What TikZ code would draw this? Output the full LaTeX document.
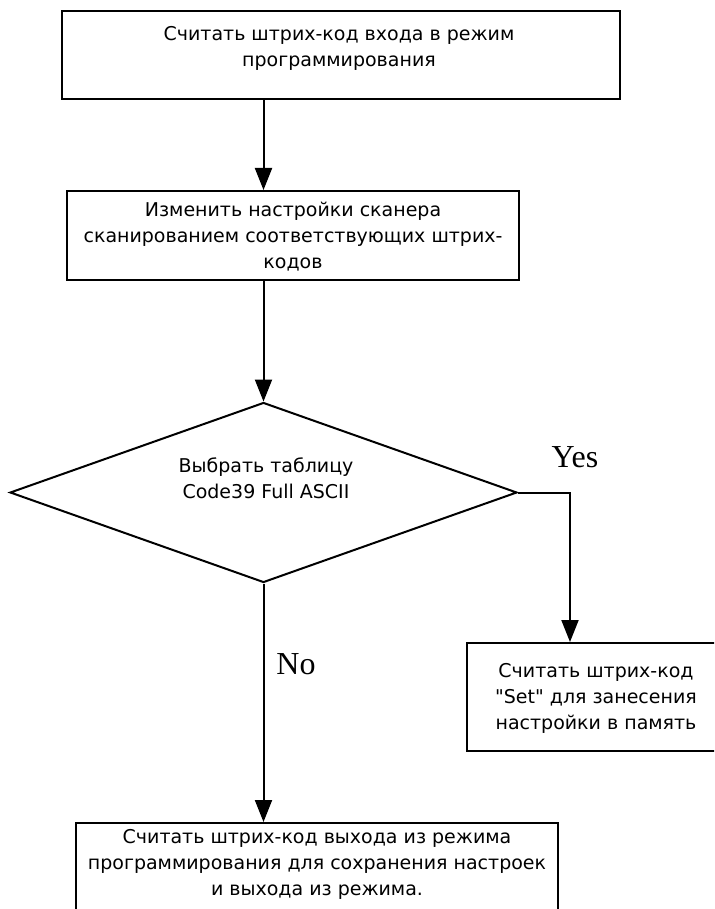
\documentclass[tikz,border=0pt]{standalone}
\usepackage{fontspec}
\setmainfont{DejaVu Sans}[Ligatures=TeXOff]
\newfontfamily\yesnofont{Liberation Serif}
\usetikzlibrary{arrows.meta,shapes.geometric}
\begin{document}
\begin{tikzpicture}[x=1pt,y=-1pt,
  box/.style={draw, line width=2pt, rectangle, inner sep=0pt},
  txt/.style={align=center, inner sep=0pt, font=\fontsize{19}{26}\selectfont},
  arr/.style={line width=2pt, -{Triangle[length=22pt,width=17pt]}},
  lbl/.style={inner sep=0pt, font=\yesnofont\fontsize{32}{32}\selectfont}]
\useasboundingbox (0,0) rectangle (714,909);
\begin{scope}
\clip (0,0) rectangle (714,909);
% boxes
\node[box, minimum width=558pt, minimum height=88pt] (b1) at (341,55) {};
\node[txt] (t1) at (339,48) {Считать штрих-код входа в режим\\программирования};
\node[box, minimum width=452pt, minimum height=89pt] (b2) at (293,235.5) {};
\node[txt] (t2) at (293,237) {Изменить настройки сканера\\сканированием соответствующих штрих-\\кодов};
\node[draw, diamond, line width=2pt, inner sep=0pt, minimum width=507pt, minimum height=180pt] (d) at (263.5,492.5) {};
\node[txt] (t3) at (266,478) {Выбрать таблицу\\Code39 Full ASCII};
\node[box, minimum width=258pt, minimum height=108pt] (b3) at (596,697) {};
\node[txt] (t4) at (596,698) {Считать штрих-код\\"Set" для занесения\\настройки в память};
\node[box, minimum width=482pt, minimum height=110pt] (b4) at (317,878) {};
\node[txt] (t5) at (317,864) {Считать штрих-код выхода из режима\\программирования для сохранения настроек\\и выхода из режима.};
% connectors
\draw[arr] (b1.south -| d.north) -- (b2.north -| d.north);
\draw[arr] (b2.south -| d.north) -- (d.north);
\draw[arr] (d.east) -- ++(52,0) coordinate (c) -- (c |- b3.north);
\draw[arr] (d.south) -- (b4.north -| d.south);
% labels
\node[lbl] (yes) at (575,457) {Yes};
\node[lbl] (no) at (296,664) {No};
\end{scope}
\end{tikzpicture}
\end{document}
